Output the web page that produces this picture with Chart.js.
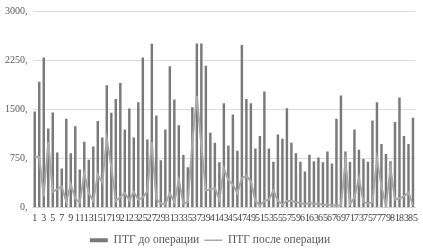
<!DOCTYPE html>
<html>
<head>
<meta charset="utf-8">
<script src="https://cdn.jsdelivr.net/npm/chart.js@4/dist/chart.umd.min.js"></script>
<style>
html,body{margin:0;padding:0;background:#fff;}
#wrap{width:423px;height:250px;position:relative;}
</style>
</head>
<body>
<div id="wrap"><canvas id="c"></canvas></div>
<script>
const categories = Array.from({length: 85}, (_, i) => String(i + 1));
const seriesNames = ["ПТГ до операции", "ПТГ после операции"];
const before = [1460,1915,2285,1200,1445,835,590,1350,825,1235,575,1000,725,925,1315,1065,1860,1440,1650,1895,
1185,1505,1065,1600,2285,1035,2495,1400,715,1185,2150,1645,1250,795,610,1525,2500,2500,2160,1135,
985,685,1585,940,1415,860,2475,1650,1585,895,1085,1765,895,695,1110,1045,1510,985,825,695,
545,800,700,760,685,850,665,1350,1705,850,690,1185,875,735,695,1325,1600,965,810,700,
1300,1675,1085,965,1365];
const after = [780,770,170,1000,240,280,320,90,350,140,70,520,220,100,500,380,1050,620,100,160,
220,110,240,120,150,250,1000,130,60,50,220,80,420,60,80,1000,1700,950,260,280,
300,120,600,420,350,220,450,480,400,100,30,100,120,260,100,50,100,100,80,70,
50,70,50,60,40,50,30,30,30,700,50,150,450,80,60,80,750,320,30,600,
120,140,170,230,30];
const yTicks = [0, 750, 1500, 2250, 3000];

const barColor = '#7a7a7a';
const lineColor = '#a9a9a9';
const font = {family: '"Liberation Serif", "Times New Roman", serif', size: 10};
const legendFont = {family: '"Liberation Serif", "Times New Roman", serif', size: 11.5};

new Chart(document.getElementById('c'), {
  data: {
    labels: categories,
    datasets: [
      {type: 'bar', label: seriesNames[0], data: before, backgroundColor: barColor, barThickness: 1.8, order: 2},
      {type: 'line', label: seriesNames[1], data: after, borderColor: lineColor, borderWidth: 2, pointRadius: 0, tension: 0, fill: false, order: 1}
    ]
  },
  options: {
    responsive: true,
    maintainAspectRatio: false,
    animation: false,
    devicePixelRatio: 1,
    layout: {padding: {top: 3, right: 3, left: 0, bottom: -6}},
    plugins: {
      tooltip: {enabled: false},
      legend: {
        position: 'bottom',
        labels: {
          font: legendFont,
          color: '#595959',
          usePointStyle: true,
          pointStyleWidth: 18,
          boxHeight: 4,
          padding: 5,
          generateLabels: (chart) => [
            {text: seriesNames[0], fillStyle: barColor, strokeStyle: barColor, lineWidth: 0, pointStyle: 'rect', datasetIndex: 0, fontColor: '#595959'},
            {text: seriesNames[1], fillStyle: lineColor, strokeStyle: lineColor, lineWidth: 1.5, pointStyle: 'line', datasetIndex: 1, fontColor: '#595959'}
          ]
        }
      }
    },
    scales: {
      x: {
        grid: {display: false, drawTicks: false},
        border: {display: true, color: '#d9d9d9'},
        ticks: {
          font: font, color: '#404040', autoSkip: false, maxRotation: 0, minRotation: 0, padding: 5,
          callback: function(v, i) { return (i % 2 === 0) ? categories[i] : ''; }
        }
      },
      y: {
        min: 0, max: 3000,
        afterBuildTicks: (ax) => { ax.ticks = yTicks.map(v => ({value: v})); },
        grid: {color: '#dcdcdc', drawTicks: false},
        border: {display: false},
        ticks: {font: font, color: '#595959', padding: 5, callback: (v) => v + ','}
      }
    }
  }
});
</script>
</body>
</html>
